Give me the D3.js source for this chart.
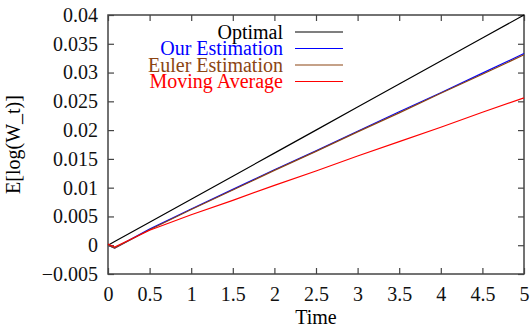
<!DOCTYPE html>
<html>
<head>
<meta charset="utf-8">
<script src="https://cdn.jsdelivr.net/npm/d3@7"></script>
<style>
body { margin: 0; background: #fff; }
</style>
</head>
<body>
<div id="chart"></div>
<script>
let width = 532, height = 328
let margin = {top: 15, right: 8, bottom: 54, left: 108}
let iw = width - margin.left - margin.right,
    ih = height - margin.top - margin.bottom
let serifFont = '"Liberation Serif", "Times New Roman", "DejaVu Serif", serif'
let fs = 20

// data
let times = [0, 0.08, 0.5, 1, 1.5, 2, 2.5, 3, 3.5, 4, 4.5, 5]
let optimal  = [0, 0.00064, 0.004, 0.008, 0.012, 0.016, 0.020, 0.024, 0.028, 0.032, 0.036, 0.040]
let ourEst   = [0, -0.0005, 0.0028, 0.0063, 0.0097, 0.0131, 0.0164, 0.0198, 0.0232, 0.0265, 0.0299, 0.0333]
let eulerEst = [0, -0.0005, 0.0027, 0.0062, 0.0096, 0.0130, 0.0163, 0.0197, 0.0230, 0.0264, 0.0297, 0.0331]
let movAvg   = [0.0002, -0.0003, 0.0026, 0.0053, 0.0078, 0.0104, 0.0129, 0.0155, 0.0180, 0.0205, 0.0231, 0.0256]

let series = [
    {name: 'Optimal', values: optimal, color: '#000000'},
    {name: 'Our Estimation', values: ourEst, color: '#0000ff'},
    {name: 'Euler Estimation', values: eulerEst, color: '#8b4513'},
    {name: 'Moving Average', values: movAvg, color: '#ff0000'},
]
let xTicks = [0, 0.5, 1, 1.5, 2, 2.5, 3, 3.5, 4, 4.5, 5]
let yTicks = [-0.005, 0, 0.005, 0.01, 0.015, 0.02, 0.025, 0.03, 0.035, 0.04]

let svg = d3.select('#chart').append('svg')
    .attr('width', width)
    .attr('height', height)
    .attr('font-family', serifFont)

let g = svg.append('g')
    .attr('transform', `translate(${margin.left},${margin.top})`)

let x = d3.scaleLinear().domain([0, 5]).range([0, iw])
let y = d3.scaleLinear().domain([-0.005, 0.04]).range([ih, 0])

let fmt = d => d < 0 ? '\u2212' + Math.abs(d) : String(d)
let axisColor = '#444'

// bottom / left axes with labels
let xa = g.append('g').attr('transform', `translate(0,${ih})`)
    .call(d3.axisBottom(x).tickValues(xTicks).tickFormat(fmt).tickSize(-6).tickPadding(13))
let ya = g.append('g')
    .call(d3.axisLeft(y).tickValues(yTicks).tickFormat(fmt).tickSize(-6).tickPadding(10))
// mirrored ticks on top and right
let xt = g.append('g')
    .call(d3.axisTop(x).tickValues(xTicks).tickFormat('').tickSize(-6))
let yr = g.append('g').attr('transform', `translate(${iw},0)`)
    .call(d3.axisRight(y).tickValues(yTicks).tickFormat('').tickSize(-6))

;[xa, ya, xt, yr].forEach(a => {
    a.attr('font-family', serifFont).attr('font-size', fs)
    a.select('.domain').remove()
    a.selectAll('line').attr('stroke', axisColor).attr('stroke-width', 1.2)
    a.selectAll('text').attr('fill', '#111')
})

g.append('rect')
    .attr('width', iw).attr('height', ih)
    .attr('fill', 'none')
    .attr('stroke', axisColor)
    .attr('stroke-width', 1.5)

let line = d3.line()
    .x((d, i) => x(times[i]))
    .y(d => y(d))

series.forEach(s => {
    g.append('path')
        .datum(s.values)
        .attr('d', line)
        .attr('fill', 'none')
        .attr('stroke', s.color)
        .attr('stroke-width', 1.2)
})

// legend
let legend = g.append('g')
series.forEach((s, i) => {
    let ly = 17 + i * 16.5
    legend.append('text')
        .attr('x', 175).attr('y', ly)
        .attr('dy', '0.33em')
        .attr('text-anchor', 'end')
        .attr('font-size', fs)
        .attr('fill', s.color)
        .text(s.name)
    legend.append('line')
        .attr('x1', 187).attr('x2', 235)
        .attr('y1', ly).attr('y2', ly)
        .attr('stroke', s.color)
        .attr('stroke-width', 1.2)
})

// axis titles
svg.append('text')
    .attr('x', margin.left + iw / 2)
    .attr('y', height - 4)
    .attr('text-anchor', 'middle')
    .attr('font-size', fs)
    .text('Time')

svg.append('text')
    .attr('transform', `translate(20, ${margin.top + ih / 2}) rotate(-90)`)
    .attr('text-anchor', 'middle')
    .attr('font-size', fs)
    .text('E[log(W_t)]')
</script>
</body>
</html>
